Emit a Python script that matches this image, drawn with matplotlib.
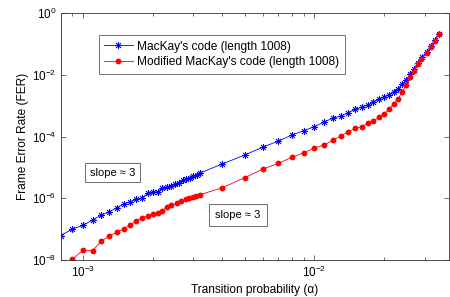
import matplotlib
matplotlib.use('Agg')
import matplotlib.pyplot as plt
from matplotlib.ticker import LogLocator, NullFormatter, NullLocator

plt.rcParams['font.family'] = ['Liberation Sans', 'DejaVu Sans']
plt.rcParams['mathtext.fontset'] = 'custom'
plt.rcParams['mathtext.rm'] = 'Liberation Sans'

# MacKay's code (length 1008)
alpha_mk = [8.0e-4, 9.0e-4, 1.0e-3, 1.1e-3, 1.2e-3, 1.3e-3, 1.4e-3, 1.5e-3, 1.6e-3, 1.7e-3,
            1.8e-3, 1.9e-3, 2.0e-3, 2.1e-3, 2.2e-3, 2.3e-3, 2.4e-3, 2.5e-3, 2.6e-3, 2.7e-3,
            2.8e-3, 2.9e-3, 3.0e-3, 3.1e-3, 3.2e-3, 4.0e-3, 5.0e-3, 6.0e-3, 7.0e-3, 8.0e-3,
            9.0e-3, 1.0e-2, 1.1e-2, 1.2e-2, 1.3e-2, 1.4e-2, 1.5e-2, 1.6e-2, 1.7e-2, 1.8e-2,
            1.9e-2, 2.0e-2, 2.1e-2, 2.2e-2, 2.3e-2, 2.4e-2, 2.5e-2, 2.6e-2, 2.7e-2, 2.8e-2,
            2.93e-2, 3.06e-2, 3.19e-2, 3.32e-2, 3.45e-2]
fer_mk = [6.2e-8, 1.01e-7, 1.33e-7, 1.98e-7, 2.87e-7, 3.67e-7, 4.94e-7, 6.52e-7, 7.73e-7, 9.24e-7,
          9.96e-7, 1.45e-6, 1.56e-6, 1.63e-6, 2.15e-6, 2.26e-6, 2.49e-6, 2.90e-6, 3.19e-6, 3.90e-6,
          4.11e-6, 4.63e-6, 5.26e-6, 5.79e-6, 6.57e-6, 1.29e-5, 2.52e-5, 4.57e-5, 7.15e-5, 1.12e-4,
          1.54e-4, 2.08e-4, 2.95e-4, 3.88e-4, 4.61e-4, 5.90e-4, 7.60e-4, 8.83e-4, 1.05e-3, 1.31e-3,
          1.60e-3, 1.95e-3, 2.21e-3, 2.82e-3, 3.45e-3, 5.01e-3, 6.76e-3, 1.06e-2, 1.54e-2, 2.35e-2,
          3.67e-2, 5.58e-2, 8.53e-2, 0.1335, 0.217]

# Modified MacKay's code (length 1008)
alpha_mod = [9.0e-4, 1.0e-3, 1.1e-3, 1.2e-3, 1.3e-3, 1.4e-3, 1.5e-3, 1.6e-3, 1.7e-3, 1.8e-3,
             1.9e-3, 2.0e-3, 2.1e-3, 2.2e-3, 2.3e-3, 2.4e-3, 2.54e-3, 2.65e-3, 2.79e-3, 2.88e-3,
             2.98e-3, 3.08e-3, 3.2e-3, 4.0e-3, 5.0e-3, 6.0e-3, 7.0e-3, 8.0e-3, 9.0e-3, 1.0e-2,
             1.1e-2, 1.2e-2, 1.3e-2, 1.4e-2, 1.5e-2, 1.6e-2, 1.7e-2, 1.8e-2, 1.9e-2, 2.0e-2,
             2.1e-2, 2.2e-2, 2.3e-2, 2.4e-2, 2.5e-2, 2.6e-2, 2.7e-2, 2.8e-2, 2.9e-2, 3.06e-2,
             3.19e-2, 3.32e-2, 3.45e-2]
fer_mod = [1.05e-8, 2.11e-8, 2.0e-8, 4.12e-8, 5.98e-8, 8.07e-8, 1.01e-7, 1.39e-7, 1.83e-7, 2.34e-7,
           2.66e-7, 3.09e-7, 3.26e-7, 4.01e-7, 5.09e-7, 5.91e-7, 6.86e-7, 7.96e-7, 9.25e-7, 1.02e-6,
           1.12e-6, 1.21e-6, 1.30e-6, 2.20e-6, 4.63e-6, 8.86e-6, 1.36e-5, 2.12e-5, 2.99e-5, 4.24e-5,
           5.23e-5, 7.53e-5, 1.04e-4, 1.43e-4, 1.84e-4, 2.08e-4, 2.68e-4, 3.18e-4, 4.19e-4, 5.36e-4,
           7.60e-4, 1.13e-3, 1.64e-3, 2.82e-3, 4.66e-3, 8.27e-3, 1.35e-2, 2.18e-2, 3.24e-2, 4.95e-2,
           8.10e-2, 0.127, 0.217]

fig = plt.figure(figsize=(4.5, 2.97), dpi=100)
ax = fig.add_axes([0.1356, 0.1246, 0.862, 0.8314])

# matlab-style asterisk marker (8 arms)
ax.loglog(alpha_mk, fer_mk, color='#0000ff', lw=0.6, marker=(8, 2, 0), ms=5, mew=0.6,
          label="MacKay's code (length 1008)")
ax.loglog(alpha_mod, fer_mod, color='#ff0000', lw=0.6, marker='o', ms=4.2, mew=0,
          label="Modified MacKay's code (length 1008)")

ax.set_xlim(8.03e-4, 0.0382)
ax.set_ylim(1e-8, 1)
ax.set_yticks([1e-8, 1e-6, 1e-4, 1e-2, 1])
ax.yaxis.set_minor_locator(NullLocator())
ax.xaxis.set_minor_locator(LogLocator(base=10, subs=range(2, 10)))
ax.xaxis.set_minor_formatter(NullFormatter())

ax.tick_params(which='both', direction='in', top=True, right=True, labelsize=8.5, color='#333333')
ax.tick_params(which='major', length=3.5, width=0.5)
ax.tick_params(which='minor', length=2, width=0.5)
for s in ax.spines.values():
    s.set_linewidth(0.6)
    s.set_color('#333333')

ax.set_xlabel('Transition probability (α)', fontsize=8.6, labelpad=3)
ax.set_ylabel('Frame Error Rate (FER)', fontsize=8.6, labelpad=2)

leg = ax.legend(loc='upper left', bbox_to_anchor=(0.097, 0.91), fontsize=8.6, frameon=True,
                fancybox=False, handlelength=2.4, handletextpad=0.4, borderpad=0.45,
                labelspacing=0.3, borderaxespad=0)
leg.get_frame().set_edgecolor('#333333')
leg.get_frame().set_linewidth(0.6)

ax.text(1.34e-3, 10 ** -5.166, 'slope ≈ 3', fontsize=8, ha='center', va='center',
        bbox=dict(boxstyle='square,pad=0.4', fc='white', ec='#555555', lw=0.6))
ax.text(4.68e-3, 10 ** -6.543, 'slope ≈ 3', fontsize=8, ha='center', va='center',
        bbox=dict(boxstyle='square,pad=0.55', fc='white', ec='#555555', lw=0.6))

fig.savefig('out.png', dpi=100)
